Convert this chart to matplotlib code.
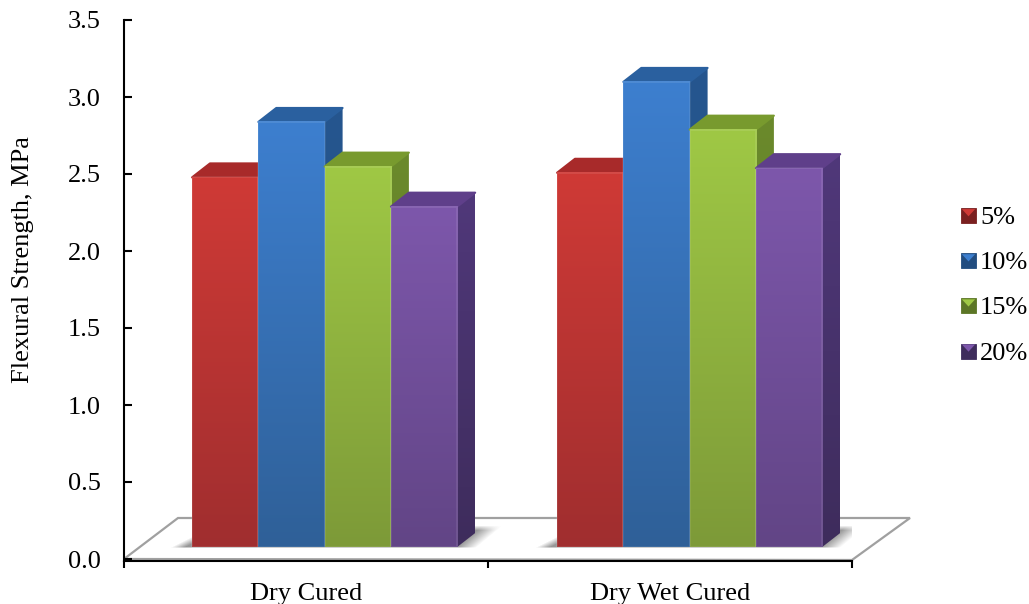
import numpy as np
import matplotlib
matplotlib.use("Agg")
import matplotlib.pyplot as plt
from matplotlib.patches import Polygon, Rectangle, Patch
from matplotlib.legend_handler import HandlerPatch

categories = ["Dry Cured", "Dry Wet Cured"]
series = ["5%", "10%", "15%", "20%"]
dry_cured = [2.40, 2.76, 2.47, 2.21]
dry_wet_cured = [2.43, 3.02, 2.71, 2.46]
y_ticks = [0.0, 0.5, 1.0, 1.5, 2.0, 2.5, 3.0, 3.5]

# style: (front top, front bottom, top face, side top, side bottom)
styles = [
    ("#cf3a36", "#a02e2f", "#a82a2a", "#8f2626", "#7a2020"),
    ("#3d7fcf", "#2f6098", "#2a609f", "#26568f", "#224d80"),
    ("#9fc845", "#7d9a38", "#789a2e", "#6b8a2c", "#5c7626"),
    ("#7d57ab", "#624586", "#5f3f8a", "#50387a", "#3e2c5c"),
]

W, H = 1029, 604
plt.rcParams["font.family"] = ["Liberation Serif", "DejaVu Serif"]
fig = plt.figure(figsize=(W / 100, H / 100), dpi=100)
ax = fig.add_axes([124 / W, 1 - 561 / H, (852 - 124) / W, (561 - 20) / H])
PX_X = 2 / 728            # data units per pixel, x
PX_Y = 3.5 / (559 - 20)   # data units per pixel, y
ax.set_xlim(0, 2)
ax.set_ylim(-2 * PX_Y, 3.5)

# floor
floor_depth_x, floor_depth_y = 54 * PX_X, 41 * PX_Y
ax.add_patch(Polygon([(0, 0), (floor_depth_x, floor_depth_y), (2 + 58 * PX_X, floor_depth_y), (2, -PX_Y)],
                     closed=True, fc="white", ec="#a0a0a0", lw=1.6, clip_on=False, zorder=1))

base = 12 * PX_Y
bar_w = 66.3 * PX_X
dep_x, dep_y = 18 * PX_X, 14 * PX_Y


def rgb(c):
    return np.array(matplotlib.colors.to_rgb(c))


def shadow(x0, x1):
    """soft shadow under one group of bars, built on a pixel-sized grid"""
    xs = np.arange(x0 - 30 * PX_X, x1 + 70 * PX_X, PX_X)
    ys = np.arange(base - 6 * PX_Y, base + 30 * PX_Y, PX_Y)
    X, Y = np.meshgrid(xs, ys)
    t = (Y - base) / PX_Y
    left = x0 - 20 * PX_X + 2 * t * PX_X
    right = x1 + 20 * PX_X + 1.2 * t * PX_X
    a = np.clip((X - left) / (14 * PX_X), 0, 1) * np.clip((right - X) / (20 * PX_X), 0, 1)
    a *= np.clip((t + 2) / 2, 0, 1) * np.clip((21 - t) / 5, 0, 1)
    img = np.zeros(a.shape + (4,))
    img[..., :3] = 0.42
    img[..., 3] = a * 0.7
    ax.imshow(img, extent=(xs[0], xs[-1], ys[0], ys[-1]), origin="lower", aspect="auto",
              interpolation="bilinear", zorder=2)


def vgrad(x0, x1, y0, y1, top, bottom, z):
    f = np.linspace(0, 1, 128).reshape(-1, 1, 1)
    arr = rgb(bottom).reshape(1, 1, 3) * (1 - f) + rgb(top).reshape(1, 1, 3) * f
    return ax.imshow(arr, extent=(x0, x1, y0, y1), origin="lower", aspect="auto",
                     interpolation="bilinear", zorder=z)


z = 3
for g, vals in enumerate([dry_cured, dry_wet_cured]):
    start = g + (192 - 124) * PX_X + g * 1 * PX_X
    shadow(start, start + 4 * bar_w)
    for i, v in enumerate(vals):
        ft, fb, tp, st, sb = styles[i]
        x0 = start + i * bar_w
        x1 = x0 + bar_w
        top = base + v
        # side face
        im = vgrad(x1, x1 + dep_x, base, top + dep_y, st, sb, z)
        side = Polygon([(x1, base), (x1 + dep_x, base + dep_y), (x1 + dep_x, top + dep_y), (x1, top)],
                       closed=True, transform=ax.transData, fc="none", ec="none")
        ax.add_patch(side)
        im.set_clip_path(side)
        # top face
        ax.add_patch(Polygon([(x0, top), (x0 + dep_x, top + dep_y), (x1 + dep_x, top + dep_y), (x1, top)],
                             closed=True, fc=tp, ec=tp, lw=1.5, joinstyle="round", zorder=z + 1))
        # front face
        vgrad(x0, x1, base, top, ft, fb, z + 2)
        ax.add_patch(Rectangle((x0, base), bar_w, v, fc="none", ec=(1, 1, 1, 0.10), lw=1.2, zorder=z + 3))
        z += 4

ax.set_xlim(0, 2)
ax.set_ylim(-2 * PX_Y, 3.5)

for s in ("top", "right"):
    ax.spines[s].set_visible(False)
for s in ("left", "bottom"):
    ax.spines[s].set_linewidth(1.5)
    ax.spines[s].set_zorder(2000)
ax.set_yticks(y_ticks)
ax.set_yticklabels([f"{t:.1f}" for t in y_ticks], fontsize=19)
ax.tick_params(axis="y", direction="in", length=6, width=1.5, pad=17)
ax.set_xticks([0, 1, 2])
ax.set_xticklabels([])
ax.tick_params(axis="x", direction="out", length=5, width=1.5)
for i, c in enumerate(categories):
    ax.text(i + 0.5, -35 * PX_Y, c, ha="center", va="center", fontsize=19, color="black", clip_on=False)
fig.text(23 / W, 1 - 260 / H, "Flexural Strength, MPa", rotation=90, ha="center", va="center", fontsize=19)


class BevelHandler(HandlerPatch):
    def create_artists(self, legend, orig, xd, yd, width, height, fontsize, trans):
        x0, y0 = -xd, -yd
        sq = Rectangle((x0, y0), 10.8, 10.8, fc=orig.get_edgecolor(), ec=orig.get_edgecolor(), lw=0.6, transform=trans)
        tri = Polygon([(x0 + 0.6, y0 + 10.2), (x0 + 10.2, y0 + 10.2), (x0 + 5.4, y0 + 5)], closed=True,
                      fc=orig.get_facecolor(), ec="none", transform=trans)
        return [sq, tri]


handles = [Patch(fc=s[0], ec=s[4]) for s in styles]
fig.legend(handles, series, loc="center left", bbox_to_anchor=(961 / W, 1 - 285.5 / H), frameon=False,
           fontsize=19, handlelength=0.62, handleheight=0.6, handletextpad=0.1, labelspacing=0.85,
           handler_map={Patch: BevelHandler()}, borderpad=0, borderaxespad=0)

fig.savefig("out.png", dpi=100)
